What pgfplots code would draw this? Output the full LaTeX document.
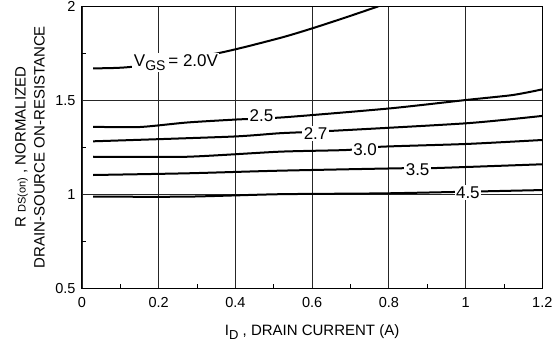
\documentclass[border=0pt]{standalone}
\usepackage{fontspec}
\setmainfont{Liberation Sans}
\usepackage{pgfplots}
\pgfplotsset{compat=1.18}
\begin{document}
\begin{tikzpicture}
\begin{axis}[name=ax, scale only axis, width=460.3pt, height=282.3pt,
  xmin=0, xmax=1.2, ymin=0.5, ymax=2,
  xtick={0,0.2,0.4,0.6,0.8,1,1.2}, ytick={0.5,1,1.5,2},
  minor x tick num=1, minor y tick num=1,
  tick pos=left, major tick length=0pt, minor tick length=4pt, tick align=inside,
  grid=major, major grid style={black!85, line width=0.8pt},
  axis line style={black, line width=1pt},
  every tick/.style={black, line width=0.8pt},
  /pgf/number format/assume math mode=true,
  ticklabel style={font=\fontsize{14.5}{16}\selectfont},
  xticklabel style={yshift=-6pt},
  yticklabel style={xshift=-3pt},
  xlabel={I\raisebox{-0.45ex}{\fontsize{13}{13}\selectfont D} , DRAIN CURRENT (A)},
  xlabel style={at={(axis description cs:0.5,-0.168)}, anchor=base, font=\fontsize{15}{17}\selectfont},
  ylabel={R {\fontsize{11}{11}\selectfont DS(on)} , NORMALIZED\\DRAIN-SOURCE ON-RESISTANCE},
  ylabel style={at={(axis description cs:-0.113,0.5)}, anchor=center, rotate=0, align=center, font=\fontsize{15}{19}\selectfont},
]
% VGS = 2.0
\addplot[black, line width=2pt, smooth, tension=0.4] coordinates {
(0.029,1.669) (0.13,1.677) (0.354,1.749) (0.516,1.830) (0.603,1.883) (0.690,1.941) (0.775,2.0)};
% 2.5
\addplot[black, line width=2pt, smooth, tension=0.4] coordinates {
(0.029,1.358) (0.151,1.357) (0.274,1.381) (0.404,1.397) (0.529,1.409) (0.803,1.456) (1.003,1.501) (1.123,1.527) (1.2,1.557)};
% 2.7
\addplot[black, line width=2pt, smooth, tension=0.4] coordinates {
(0.029,1.281) (0.39,1.306) (0.516,1.324) (0.646,1.336) (1.003,1.377) (1.2,1.416)};
% 3.0
\addplot[black, line width=2pt, smooth, tension=0.4] coordinates {
(0.029,1.199) (0.274,1.199) (0.516,1.226) (0.691,1.235) (0.777,1.252) (1.003,1.267) (1.2,1.288)};
% 3.5
\addplot[black, line width=2pt, smooth, tension=0.4] coordinates {
(0.029,1.102) (0.274,1.111) (0.516,1.125) (0.837,1.138) (0.907,1.138) (1.2,1.159)};
% 4.5
\addplot[black, line width=2pt, smooth, tension=0.4] coordinates {
(0.029,0.987) (0.274,0.987) (0.516,1.0) (0.803,1.005) (1.2,1.022)};
\tikzset{lab/.style={fill=white, inner sep=1.5pt, anchor=base, font=\fontsize{17}{19}\selectfont}}
\node[lab] at (axis cs:0.245,1.677) {V\raisebox{-0.4ex}{\fontsize{14}{14}\selectfont GS}\,= 2.0V};
\node[lab] at (axis cs:0.468,1.385) {2.5};
\node[lab] at (axis cs:0.609,1.292) {2.7};
\node[lab] at (axis cs:0.738,1.208) {3.0};
\node[lab] at (axis cs:0.875,1.102) {3.5};
\node[lab] at (axis cs:1.006,0.978) {4.5};
\end{axis}
\pgfresetboundingbox
\path ([xshift=-82pt,yshift=-54.7pt]ax.south west) rectangle ([xshift=17.7pt,yshift=6pt]ax.north east);
\end{tikzpicture}
\end{document}
